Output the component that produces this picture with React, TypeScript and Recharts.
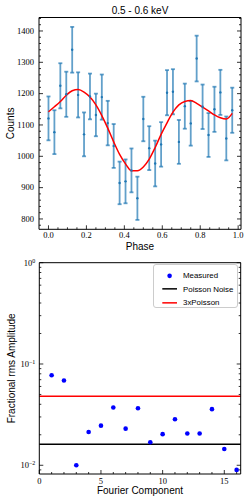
import React from "react";
import {
  ComposedChart,
  Line,
  Scatter,
  ErrorBar,
  XAxis,
  YAxis,
  ReferenceLine,
  Legend,
} from "recharts";

// ---- top panel: pulse profile, 0.5 - 0.6 keV ----
const phase = [
  0, 0.0312, 0.0625, 0.0938, 0.125, 0.1562, 0.1875, 0.2188, 0.25, 0.2812, 0.3125,
  0.3438, 0.375, 0.4062, 0.4375, 0.4688, 0.5, 0.5312, 0.5625, 0.5938, 0.625, 0.6562,
  0.6875, 0.7188, 0.75, 0.7812, 0.8125, 0.8438, 0.875, 0.9062, 0.9375, 0.9688,
];
const counts = [
  1121, 1077, 1225, 1198, 1340, 1196, 1070, 1191, 1132, 1189, 1106, 1033, 915, 920,
  955, 866, 1119, 1026, 977, 1038, 1203, 1206, 1046, 1160, 1105, 1312, 1158, 1068,
  1150, 1204, 1057, 1147,
];
const countErr = [
  70, 70, 72, 72, 73, 72, 70, 73, 68, 72, 71, 70, 68, 70, 70, 69, 71, 70, 73, 71, 72,
  72, 70, 72, 71, 73, 71, 70, 72, 72, 70, 72,
];
// fitted model
const fitCounts = [
  1142, 1158, 1175, 1195, 1209, 1213, 1205, 1189, 1164, 1130, 1090, 1046, 1006, 976,
  954, 954, 966, 991, 1028, 1070, 1107, 1141, 1164, 1175, 1178, 1169, 1157, 1145,
  1132, 1123, 1119, 1137,
];
const phaseMajor = [0, 0.2, 0.4, 0.6, 0.8, 1.0];
const countsMajor = [800, 900, 1000, 1100, 1200, 1300, 1400];

// ---- bottom panel: Fourier amplitudes ----
const harmonic = [1, 2, 3, 4, 5, 6, 7, 8, 9, 10, 11, 12, 13, 14, 15, 16];
const rmsAmp = [
  0.0773, 0.0686, 0.01, 0.0213, 0.0246, 0.0372, 0.023, 0.0366, 0.0169, 0.0203, 0.0285,
  0.0206, 0.0206, 0.0358, 0.0145, 0.009,
];
const POISSON = 0.0161;
const POISSON_3X = 0.048;
const harmonicMajor = [0, 5, 10, 15];
const decadeTicks = [0.01, 0.1, 1];
const legendNames = ["Measured", "Poisson Noise", "3xPoisson"];

const W = 252;
const PANEL_H = 252;
const SERIF = "'Liberation Serif', serif";
const SANS = "'Liberation Sans', sans-serif";

const profile = phase.map((p, i) => ({ phase: p, counts: counts[i], err: countErr[i] }));
const fit = phase.map((p, i) => ({ phase: p, fit: fitCounts[i] }));
const amps = harmonic.map((n, i) => ({ n, amp: rmsAmp[i] }));

const phaseTicks: number[] = [];
for (let i = 0; i <= 20; i++) phaseTicks.push(+(i * 0.05).toFixed(2));
const countTicks: number[] = [];
for (let v = 780; v <= 1440; v += 20) countTicks.push(v);
const harmonicTicks = Array.from({ length: 17 }, (_, i) => i);
const logTicks: number[] = [0.009];
decadeTicks.slice(0, 2).forEach((d) => {
  for (let k = 1; k <= 9; k++) logTicks.push(+(d * k).toPrecision(3));
});
logTicks.push(1);

const near = (v: number, list: number[]) => list.some((m) => Math.abs(m - v) < 1e-6);

type Side = "bottom" | "top" | "left" | "right";
const makeTick =
  (side: Side, major: number[], label?: (v: number) => React.ReactNode, labelGap = 9) =>
  (props: any) => {
    const { x, y, payload } = props;
    const v = payload.value;
    const isMajor = near(v, major);
    const len = isMajor ? 4 : 2;
    let x2 = x;
    let y2 = y;
    if (side === "bottom") y2 = y - len;
    if (side === "top") y2 = y + len;
    if (side === "left") x2 = x + len;
    if (side === "right") x2 = x - len;
    return (
      <g>
        <line x1={x} y1={y} x2={x2} y2={y2} stroke="#000" strokeWidth={0.8} />
        {label && isMajor && side === "bottom" && (
          <text x={x} y={y + labelGap} textAnchor="middle" fontFamily={SERIF} fontSize={8.5} fill="#000">
            {label(v)}
          </text>
        )}
        {label && isMajor && side === "left" && (
          <text x={x - labelGap} y={y} dy="0.33em" textAnchor="end" fontFamily={SERIF} fontSize={8.5} fill="#000">
            {label(v)}
          </text>
        )}
      </g>
    );
  };

const powLabel = (v: number) => {
  const e = Math.round(Math.log10(v));
  return (
    <>
      10
      <tspan dy="-0.45em" fontSize={6}>
        {e === 0 ? "0" : "\u2212" + Math.abs(e)}
      </tspan>
    </>
  );
};

// axes get a 1px box (a 0px box is not drawn); margins below are reduced by that pixel
const axisCommon = {
  type: "number" as const,
  allowDataOverflow: true,
  interval: 0 as const,
  tickSize: 0,
  tickMargin: 0,
  tickLine: false,
  axisLine: { stroke: "#000", strokeWidth: 1 },
};

const TopPanel = () => (
  <ComposedChart width={W} height={PANEL_H} margin={{ top: 16.5, right: 10, bottom: 21.7, left: 38 }}>
    <XAxis
      {...axisCommon}
      dataKey="phase"
      domain={[-0.05, 1.015]}
      ticks={phaseTicks}
      height={1}
      tick={makeTick("bottom", phaseMajor, (v) => v.toFixed(1), 8.3)}
      label={{ value: "Phase", position: "bottom", offset: 13, fontSize: 10, fontFamily: SANS, fill: "#000" }}
    />
    <XAxis
      {...axisCommon}
      xAxisId="top"
      orientation="top"
      domain={[-0.05, 1.015]}
      ticks={phaseTicks}
      height={1}
      tick={makeTick("top", phaseMajor)}
      label={{ value: "0.5 - 0.6 keV", position: "top", offset: 3, fontSize: 10, fontFamily: SANS, fill: "#000" }}
    />
    <YAxis
      {...axisCommon}
      domain={[767, 1443]}
      ticks={countTicks}
      width={1}
      tick={makeTick("left", countsMajor, (v) => String(v), 5)}
      label={{
        value: "Counts",
        angle: -90,
        position: "left",
        offset: 27.5,
        fontSize: 10,
        fontFamily: SANS,
        fill: "#000",
        style: { textAnchor: "middle" },
      }}
    />
    <YAxis
      {...axisCommon}
      yAxisId="right"
      orientation="right"
      domain={[767, 1443]}
      ticks={countTicks}
      width={1}
      tick={makeTick("right", countsMajor)}
    />
    <Scatter
      data={profile}
      dataKey="counts"
      isAnimationActive={false}
      shape={(p: any) => <circle cx={p.cx} cy={p.cy} r={1.2} fill="#1f77b4" />}
    >
      <ErrorBar dataKey="err" direction="y" width={2} strokeWidth={1.8} stroke="rgba(31,119,180,0.7)" isAnimationActive={false} />
    </Scatter>
    <Line
      data={fit}
      dataKey="fit"
      type="monotone"
      dot={false}
      stroke="#ff0000"
      strokeWidth={1.5}
      isAnimationActive={false}
    />
  </ComposedChart>
);

const LegendBox = () => (
  <div
    style={{
      width: 85,
      height: 44,
      border: "1px solid #cccccc",
      borderRadius: 3,
      background: "rgba(255,255,255,0.85)",
      paddingTop: 3.5,
      boxSizing: "border-box",
      fontFamily: SANS,
      fontSize: 7.9,
      color: "#000",
    }}
  >
    {legendNames.map((name, i) => (
      <div key={name} style={{ height: 13.7, display: "flex", alignItems: "center" }}>
        <svg width={29} height={13.7} style={{ flex: "none" }}>
          {i === 0 ? (
            <circle cx={15.6} cy={6.85} r={2.3} fill="#0000ff" />
          ) : (
            <line x1={8.3} x2={23} y1={6.85} y2={6.85} stroke={i === 1 ? "#000000" : "#ff0000"} strokeWidth={1.5} />
          )}
        </svg>
        <span style={{ whiteSpace: "nowrap" }}>{name}</span>
      </div>
    ))}
  </div>
);

const BottomPanel = () => (
  <ComposedChart width={W} height={PANEL_H} margin={{ top: 9.7, right: 10.3, bottom: 29, left: 38.3 }}>
    <XAxis
      {...axisCommon}
      dataKey="n"
      domain={[0, 16.33]}
      ticks={harmonicTicks}
      height={1}
      tick={makeTick("bottom", harmonicMajor, (v) => String(v), 9.5)}
      label={{ value: "Fourier Component", position: "bottom", offset: 12, fontSize: 10, fontFamily: SANS, fill: "#000" }}
    />
    <XAxis
      {...axisCommon}
      xAxisId="top"
      orientation="top"
      domain={[0, 16.33]}
      ticks={harmonicTicks}
      height={1}
      tick={makeTick("top", harmonicMajor)}
    />
    <YAxis
      {...axisCommon}
      scale="log"
      domain={[0.0082, 1]}
      ticks={logTicks}
      width={1}
      tick={makeTick("left", decadeTicks, powLabel, 4)}
      label={{
        value: "Fractional rms Amplitude",
        angle: -90,
        position: "left",
        offset: 27.3,
        fontSize: 10,
        fontFamily: SANS,
        fill: "#000",
        style: { textAnchor: "middle" },
      }}
    />
    <YAxis
      {...axisCommon}
      yAxisId="right"
      orientation="right"
      scale="log"
      domain={[0.0082, 1]}
      ticks={logTicks}
      width={1}
      tick={makeTick("right", decadeTicks)}
    />
    <Scatter
      name="Measured"
      data={amps}
      dataKey="amp"
      isAnimationActive={false}
      shape={(p: any) => <circle cx={p.cx} cy={p.cy} r={2.3} fill="#0000ff" />}
    />
    <ReferenceLine y={POISSON} stroke="#000000" strokeWidth={1.5} />
    <ReferenceLine y={POISSON_3X} stroke="#ff0000" strokeWidth={1.5} />
    <Legend
      layout="horizontal"
      verticalAlign="middle"
      align="center"
      content={() => <LegendBox />}
      wrapperStyle={{ left: 153, top: 12, width: 85, height: 44 }}
    />
  </ComposedChart>
);

export default function App() {
  return (
    <div style={{ position: "absolute", left: 0, top: 0, width: W, height: 504, background: "#fff" }}>
      <TopPanel />
      <BottomPanel />
    </div>
  );
}
